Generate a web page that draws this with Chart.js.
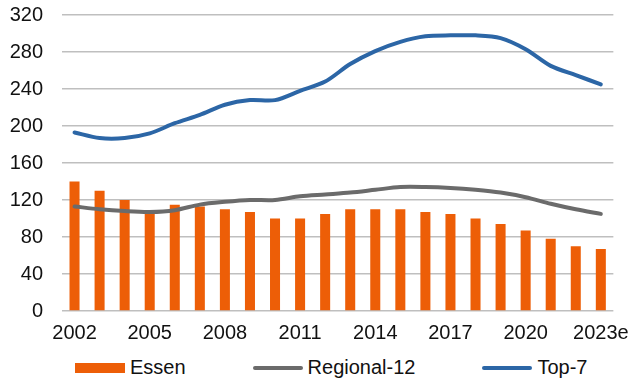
<!DOCTYPE html>
<html>
<head>
<meta charset="utf-8">
<script src="https://cdn.jsdelivr.net/npm/chart.js@4/dist/chart.umd.min.js"></script>
<style>
    body { margin: 0; background: #fff; font-family: "Liberation Sans", Arial, sans-serif; }
    #wrap { position: relative; width: 639px; height: 380px; }
    #box { position: absolute; left: 0; top: 0; width: 639px; height: 355px; }
    #legend { position: absolute; left: 75px; top: 356px; width: 564px; display: flex; align-items: center;
        font-size: 20px; color: #111; white-space: nowrap; }
    .item { display: flex; align-items: center; margin-right: 67px; }
    .swatch { width: 50px; margin-right: 5px; flex: none; }
</style>
</head>
<body>
<div id="wrap">
    <div id="box"><canvas id="chart"></canvas></div>
    <div id="legend"></div>
</div>
<script>
const years = ["2002", "2003", "2004", "2005", "2006", "2007", "2008", "2009", "2010", "2011", "2012",
    "2013", "2014", "2015", "2016", "2017", "2018", "2019", "2020", "2021", "2022", "2023e"];
const essen = [140, 130, 120, 109, 115, 113, 110, 107, 100, 100, 105, 110, 110, 110, 107, 105, 100, 94, 87, 78, 70, 67];
const regional12 = [113, 110, 108, 107, 109, 115, 118, 120, 120, 124, 126, 128, 131, 134, 134, 133, 131, 128, 123, 116, 110, 105];
const top7 = [193, 187, 187, 192, 203, 212, 223, 228, 228, 238, 248, 267, 281, 291, 297, 298, 298, 295, 283, 265, 255, 245];
const yTicks = [0, 40, 80, 120, 160, 200, 240, 280, 320];

const ORANGE = "#ED5E07";
const GREY = "#6B6B6B";
const BLUE = "#2C66A6";

const chart = new Chart(document.getElementById("chart").getContext("2d"), {
    data: {
        labels: years,
        datasets: [
            {
                type: "bar",
                label: "Essen",
                data: essen,
                backgroundColor: ORANGE,
                barPercentage: 0.4,
                categoryPercentage: 1,
                order: 2
            },
            {
                type: "line",
                label: "Regional-12",
                data: regional12,
                borderColor: GREY,
                borderWidth: 4,
                tension: 0.3,
                pointRadius: 0,
                borderCapStyle: "round",
                fill: false,
                order: 1
            },
            {
                type: "line",
                label: "Top-7",
                data: top7,
                borderColor: BLUE,
                borderWidth: 4,
                tension: 0.3,
                pointRadius: 0,
                borderCapStyle: "round",
                fill: false,
                order: 1
            }
        ]
    },
    options: {
        responsive: true,
        maintainAspectRatio: false,
        animation: false,
        layout: { padding: { top: 15, right: 16, bottom: 0, left: 0 } },
        plugins: { legend: { display: false }, tooltip: { enabled: false } },
        scales: {
            x: {
                offset: true,
                grid: { display: false, drawTicks: false },
                border: { display: false },
                ticks: {
                    autoSkip: false,
                    maxRotation: 0,
                    padding: 10,
                    color: "#111",
                    font: { family: "Liberation Sans", size: 20 },
                    callback: (v, i) => (i % 3 === 0 ? years[i] : "")
                }
            },
            y: {
                min: 0,
                max: 320,
                afterBuildTicks: (scale) => { scale.ticks = yTicks.map(v => ({ value: v })); },
                afterFit: (scale) => {
                    scale.width = 62;
                    scale.paddingTop = 0;
                    scale.paddingBottom = 0;
                },
                grid: { color: "#BFBFBF", lineWidth: 1.5, drawTicks: false },
                border: { display: false },
                ticks: {
                    padding: 19,
                    color: "#111",
                    font: { family: "Liberation Sans", size: 20 }
                }
            }
        }
    }
});

// legend row built from the datasets
const legend = document.getElementById("legend");
chart.data.datasets.forEach((ds) => {
    const item = document.createElement("div");
    item.className = "item";
    const sw = document.createElement("div");
    sw.className = "swatch";
    if (ds.type === "bar") {
        sw.style.height = "10px";
        sw.style.background = ds.backgroundColor;
    } else {
        sw.style.height = "4px";
        sw.style.borderRadius = "2px";
        sw.style.background = ds.borderColor;
    }
    const txt = document.createElement("span");
    txt.textContent = ds.label;
    item.appendChild(sw);
    item.appendChild(txt);
    legend.appendChild(item);
});
</script>
</body>
</html>
